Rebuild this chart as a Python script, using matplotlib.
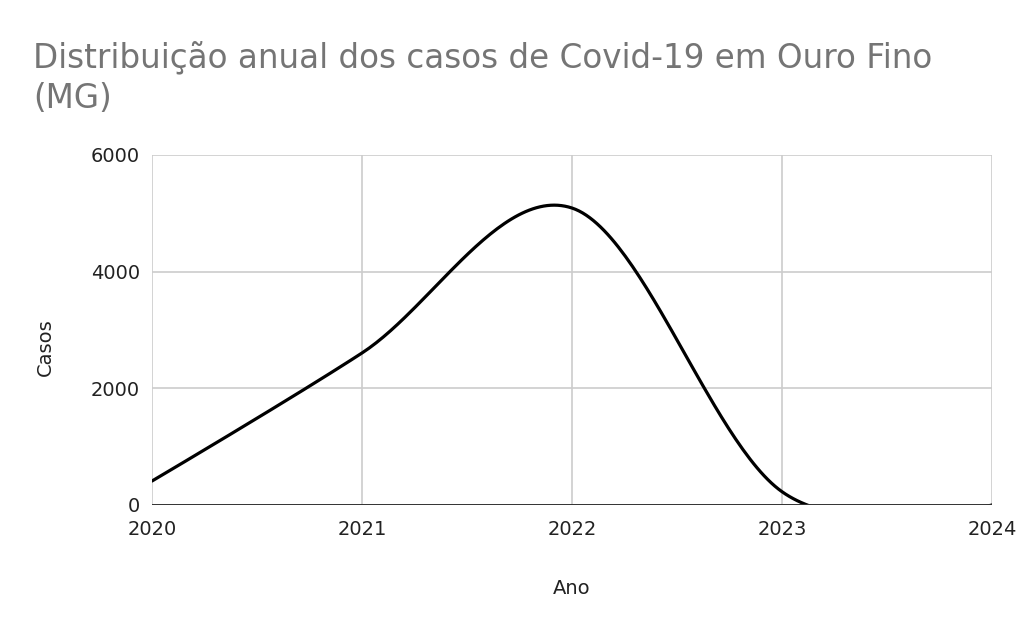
import numpy as np
import matplotlib
matplotlib.use("Agg")
import matplotlib.pyplot as plt

plt.rcParams['font.family'] = ['DejaVu Sans']

years = [2020, 2021, 2022, 2023, 2024]
casos = [411, 2606, 5091, 228, 0]
xticks = [2020, 2021, 2022, 2023, 2024]
yticks = [0, 2000, 4000, 6000]

title_l1 = "Distribuição anual dos casos de Covid-19 em Ouro Fino"
title_l2 = "(MG)"

def smooth(xs, ys, n=60):
    xs = np.asarray(xs, float); ys = np.asarray(ys, float)
    k = len(xs)
    mx = np.zeros(k); my = np.zeros(k)
    for i in range(1, k - 1):
        mx[i] = (xs[i + 1] - xs[i - 1]) / 2
        my[i] = (ys[i + 1] - ys[i - 1]) / 2
    px, py = [], []
    for i in range(k - 1):
        p0 = (xs[i], ys[i]); p3 = (xs[i + 1], ys[i + 1])
        c1 = (xs[i] + mx[i] / 3, ys[i] + my[i] / 3)
        c2 = (xs[i + 1] - mx[i + 1] / 3, ys[i + 1] - my[i + 1] / 3)
        t = np.linspace(0, 1, n)
        bx = (1-t)**3*p0[0] + 3*(1-t)**2*t*c1[0] + 3*(1-t)*t**2*c2[0] + t**3*p3[0]
        by = (1-t)**3*p0[1] + 3*(1-t)**2*t*c1[1] + 3*(1-t)*t**2*c2[1] + t**3*p3[1]
        px.extend(bx); py.extend(by)
    return np.array(px), np.array(py)

W, H = 1024, 633
fig = plt.figure(figsize=(W / 100, H / 100), dpi=100)
ax = fig.add_axes([152 / W, 1 - 505 / H, 840 / W, 350 / H])

sx, sy = smooth(years, casos)
ax.plot(sx, sy, color="black", lw=2.3, solid_capstyle="round", zorder=3)

ax.set_xlim(2020, 2024)
ax.set_ylim(0, 6000)
ax.set_xticks(xticks)
ax.set_yticks(yticks)
ax.set_xticklabels([str(v) for v in xticks])
ax.set_yticklabels([str(v) for v in yticks])
ax.grid(True, color="#cccccc", lw=1.2, zorder=0)
ax.axhline(0, color="#333333", lw=1.4, zorder=4)
for s in ["left", "right", "top", "bottom"]:
    ax.spines[s].set_visible(False)
ax.tick_params(length=0, labelsize=14, colors="#222222")
ax.tick_params(axis="y", pad=8.5)
ax.tick_params(axis="x", pad=11)

fig.text(571.5 / W, 1 - 588.5 / H, "Ano", fontsize=14, color="#222222",
         ha="center", va="center")
fig.text(45.5 / W, 1 - 347.5 / H, "Casos", fontsize=14, color="#222222",
         ha="center", va="center", rotation=90)

fig.text(33 / W, 1 - 67 / H, title_l1, fontsize=23.5, color="#757575",
         ha="left", va="baseline")
fig.text(33 / W, 1 - 108 / H, title_l2, fontsize=23.5, color="#757575",
         ha="left", va="baseline")

fig.savefig("out.png", dpi=100)
